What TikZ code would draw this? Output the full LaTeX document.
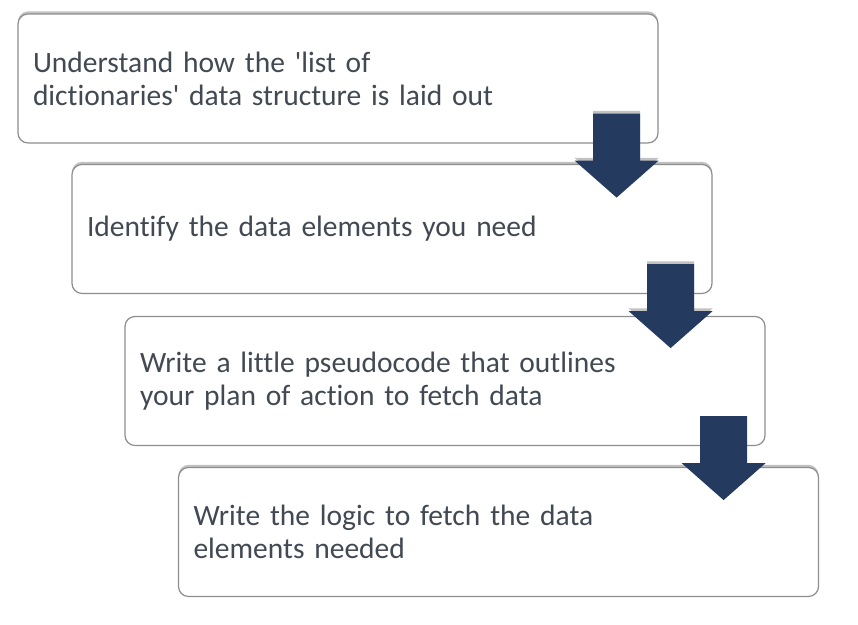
\documentclass[tikz,border=0pt]{standalone}
\usepackage{fontspec}
\setmainfont{Carlito}[Ligatures=NoCommon]
\usetikzlibrary{shadows}

\definecolor{boxline}{HTML}{8E8E8E}
\definecolor{textgray}{HTML}{424953}
\definecolor{arrownavy}{HTML}{243A5E}

\begin{document}
\begin{tikzpicture}[x=0.5pt, y=0.5pt,
    stepbox/.style={draw=boxline, line width=0.6pt, rounded corners=5pt, fill=white,
        text width=305pt, inner xsep=7.5pt, minimum height=64.5pt,
        align=left, text=textgray, font=\fontsize{14.75}{16.5}\selectfont},
    topshade/.style={drop shadow={shadow xshift=0pt, shadow yshift=1.3pt,
        fill=gray!80, opacity=0.6}},
    downarrow/.style={fill=arrownavy}]
    \useasboundingbox (0,0) rectangle (858,625);

    % Step Boxes
    \node[stepbox, topshade] (understand) at (338,546.5)
        {Understand how the \textquotesingle list of\\dictionaries\textquotesingle\ data structure is laid out};
    \node[stepbox, topshade] (identify) at (392,396)
        {Identify the data elements you need};
    \node[stepbox] (pseudo) at (445,244)
        {Write a little pseudocode that outlines\\your plan of action to fetch data};
    \node[stepbox, topshade] (logic) at (498.5,93)
        {Write the logic to fetch the data\\elements needed};

    % Block Arrows
    % -- understand to identify
    \coordinate (a1) at ([shift={(-42,30)}]understand.south east);
    \fill[downarrow, topshade] (a1) ++(-23.5,0) -- ++(47,0) -- ++(0,-47) -- ++(18.5,0)
        -- ++(-42,-37) -- ++(-42,37) -- ++(18.5,0) -- cycle;

    % -- identify to pseudo
    \coordinate (a2) at ([shift={(-42,30)}]identify.south east);
    \fill[downarrow, topshade] (a2) ++(-23.5,0) -- ++(47,0) -- ++(0,-47) -- ++(18.5,0)
        -- ++(-42,-37) -- ++(-42,37) -- ++(18.5,0) -- cycle;

    % -- pseudo to logic
    \coordinate (a3) at ([shift={(-42,30)}]pseudo.south east);
    \fill[downarrow] (a3) ++(-23.5,0) -- ++(47,0) -- ++(0,-47) -- ++(18.5,0)
        -- ++(-42,-37) -- ++(-42,37) -- ++(18.5,0) -- cycle;
\end{tikzpicture}
\end{document}
